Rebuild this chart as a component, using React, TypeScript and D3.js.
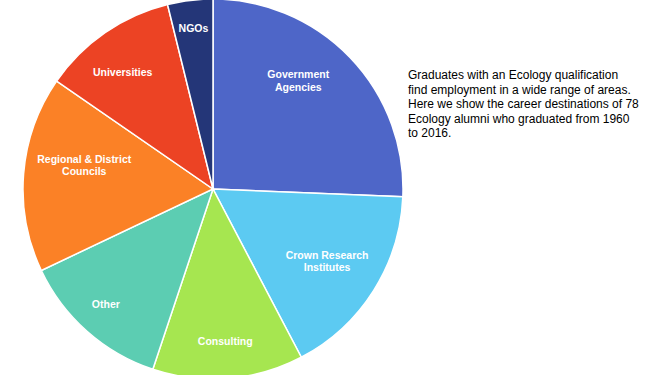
import * as d3 from 'd3';

// career destinations, clockwise from 12 o'clock
const categories = [
  'Government Agencies',
  'Crown Research Institutes',
  'Consulting',
  'Other',
  'Regional & District Councils',
  'Universities',
  'NGOs',
];
const counts = [20, 13, 10, 10, 13, 9, 3];
const labelLines = [
  ['Government', 'Agencies'],
  ['Crown Research', 'Institutes'],
  ['Consulting'],
  ['Other'],
  ['Regional & District', 'Councils'],
  ['Universities'],
  ['NGOs'],
];
const colors = ['#4e66c8', '#5ccaf2', '#a6e650', '#5ccdb2', '#fb8126', '#ec4324', '#243678'];

// label placement (best-fit style): distance from centre and angular nudge in degrees
const labelRadius = [138, 135, 152, 157, 131, 148, 162];
const labelNudge = [-8, 0, 0, 1.5, 6, -3, 0];

const blurb = [
  'Graduates with an Ecology qualification',
  'find employment in a wide range of areas.',
  'Here we show the career destinations of 78',
  'Ecology alumni who graduated from 1960',
  'to 2016.',
];

export default function App() {
  const width = 650;
  const height = 375;
  const cx = 213;
  const cy = 189;
  const radius = 190;

  const pie = d3.pie<number>().sort(null).value(d => d);
  const arcs = pie(counts);
  const arc = d3.arc<d3.PieArcDatum<number>>().innerRadius(0).outerRadius(radius);

  return (
    <svg
      width={width}
      height={height}
      style={{ position: 'absolute', left: 0, top: 0, background: '#fff' }}
      fontFamily="'Liberation Sans', Arial, sans-serif"
    >
      <g transform={`translate(${cx},${cy})`}>
        {arcs.map((a, i) => (
          <path key={categories[i]} d={arc(a) || ''} fill={colors[i]} stroke="#fff" strokeWidth={1.5} />
        ))}
        {arcs.map((a, i) => {
          const mid = (a.startAngle + a.endAngle) / 2 + (labelNudge[i] * Math.PI) / 180;
          const x = labelRadius[i] * Math.sin(mid);
          const y = -labelRadius[i] * Math.cos(mid);
          const lines = labelLines[i];
          const lh = 12.3;
          const y0 = y - ((lines.length - 1) * lh) / 2;
          return (
            <text
              key={'l' + i}
              x={x}
              y={y0}
              textAnchor="middle"
              dominantBaseline="central"
              fill="#fff"
              fontSize={10.5}
              fontWeight="bold"
            >
              {lines.map((t, j) => (
                <tspan key={j} x={x} dy={j === 0 ? 0 : lh}>{t}</tspan>
              ))}
            </text>
          );
        })}
      </g>
      <text x={408} y={79} fontSize={12} fill="#000">
        {blurb.map((t, j) => (
          <tspan key={j} x={408} dy={j === 0 ? 0 : 14.5}>{t}</tspan>
        ))}
      </text>
    </svg>
  );
}
